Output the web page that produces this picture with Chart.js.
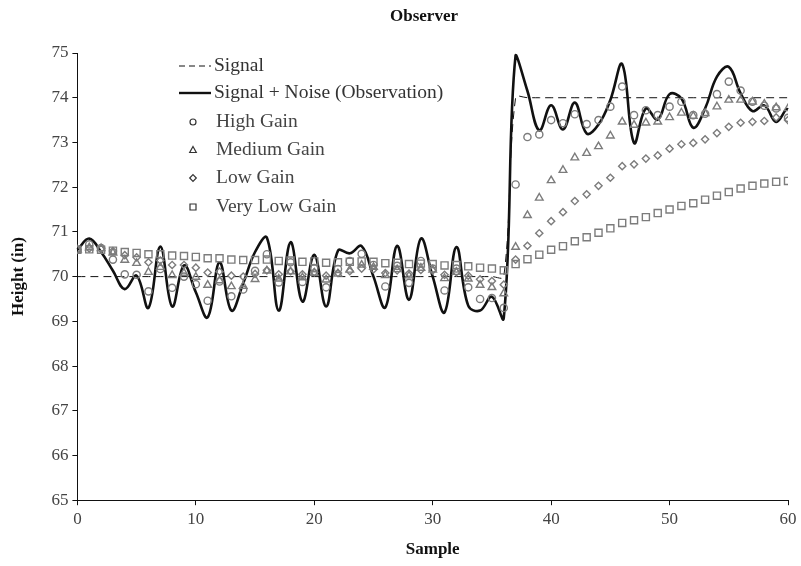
<!DOCTYPE html>
<html>
<head>
<meta charset="utf-8">
<script src="https://cdn.jsdelivr.net/npm/chart.js@4.4.1/dist/chart.umd.min.js"></script>
<style>
html, body { margin: 0; padding: 0; background: #fff; }
</style>
</head>
<body>
<canvas id="graficoObserver" width="801" height="566"></canvas>
<script>
// Dados
const samples = [0, 1, 2, 3, 4, 5, 6, 7, 8, 9, 10, 11, 12, 13, 14, 15, 16, 17, 18, 19,
  20, 21, 22, 23, 24, 25, 26, 27, 28, 29, 30, 31, 32, 33, 34, 35, 36, 37, 38, 39,
  40, 41, 42, 43, 44, 45, 46, 47, 48, 49, 50, 51, 52, 53, 54, 55, 56, 57, 58, 59, 60, 61];

const signal = [70, 70, 70, 70, 70, 70, 70, 70, 70, 70, 70, 70, 70, 70, 70, 70, 70, 70, 70, 70,
  70, 70, 70, 70, 70, 70, 70, 70, 70, 70, 70, 70, 70, 70, 70, 70, 70, 74, 74, 74,
  74, 74, 74, 74, 74, 74, 74, 74, 74, 74, 74, 74, 74, 74, 74, 74, 74, 74, 74, 74, 74, 74];

const observation = [70.6, 70.85, 70.55, 70.13, 69.72, 70.02, 69.3, 70.67, 69.33, 70.25,
  69.65, 69.09, 70.32, 69.24, 69.85, 70.55, 70.87, 69.24, 70.77, 69.44,
  70.49, 69.33, 70.58, 70.52, 70.68, 70.0, 69.31, 70.69, 69.48, 70.85,
  70.0, 69.2, 70.66, 69.35, 69.24, 69.55, 69.07, 74.95, 74.15, 73.27,
  73.83, 73.29, 73.89, 73.2, 73.4, 73.95, 74.75, 72.99, 73.76, 73.51,
  74.08, 73.98, 73.33, 73.76, 74.47, 74.69, 74.1, 73.7, 73.83, 73.46,
  73.74, 73.12];

const highGain = [70.6, 70.72, 70.64, 70.38, 70.05, 70.04, 69.67, 70.17, 69.75, 70.0,
  69.83, 69.46, 69.89, 69.56, 69.71, 70.13, 70.5, 69.87, 70.32, 69.88,
  70.19, 69.76, 70.17, 70.35, 70.51, 70.26, 69.78, 70.24, 69.86, 70.35,
  70.18, 69.69, 70.18, 69.76, 69.5, 69.52, 69.3, 72.06, 73.12, 73.18,
  73.5, 73.43, 73.63, 73.41, 73.5, 73.8, 74.25, 73.61, 73.72, 73.61,
  73.8, 73.91, 73.61, 73.64, 74.08, 74.36, 74.16, 73.91, 73.82, 73.76,
  73.55];

const mediumGain = [70.6, 70.65, 70.63, 70.53, 70.37, 70.3, 70.1, 70.21, 70.03, 70.08,
  69.99, 69.81, 69.91, 69.78, 69.79, 69.94, 70.13, 69.95, 70.11, 69.98,
  70.08, 69.93, 70.06, 70.15, 70.26, 70.21, 70.03, 70.16, 70.02, 70.19,
  70.15, 69.96, 70.1, 69.95, 69.81, 69.76, 69.62, 70.66, 71.37, 71.76,
  72.15, 72.38, 72.66, 72.76, 72.91, 73.15, 73.46, 73.39, 73.44, 73.46,
  73.56, 73.66, 73.59, 73.65, 73.8, 73.95, 73.95, 73.91, 73.86, 73.78,
  73.76];

const lowGain = [70.6, 70.63, 70.62, 70.57, 70.48, 70.43, 70.32, 70.36, 70.26, 70.26,
  70.2, 70.09, 70.11, 70.02, 70.0, 70.06, 70.14, 70.05, 70.12, 70.05,
  70.1, 70.02, 70.08, 70.12, 70.18, 70.16, 70.08, 70.14, 70.07, 70.15,
  70.14, 70.04, 70.1, 70.02, 69.94, 69.9, 69.82, 70.38, 70.69, 70.97,
  71.24, 71.44, 71.69, 71.84, 72.03, 72.21, 72.47, 72.51, 72.64, 72.71,
  72.86, 72.96, 72.99, 73.07, 73.21, 73.35, 73.44, 73.46, 73.48, 73.56,
  73.5];

const veryLowGain = [70.6, 70.61, 70.6, 70.58, 70.55, 70.53, 70.5, 70.5, 70.47, 70.46,
  70.44, 70.41, 70.41, 70.38, 70.37, 70.37, 70.38, 70.35, 70.36, 70.33,
  70.34, 70.31, 70.32, 70.33, 70.34, 70.33, 70.3, 70.31, 70.28, 70.29,
  70.28, 70.25, 70.26, 70.23, 70.2, 70.18, 70.14, 70.28, 70.39, 70.49,
  70.6, 70.68, 70.79, 70.88, 70.98, 71.08, 71.2, 71.26, 71.33, 71.42,
  71.5, 71.58, 71.64, 71.72, 71.81, 71.89, 71.97, 72.03, 72.08, 72.12,
  72.14];

const xTicks = [0, 10, 20, 30, 40, 50, 60];
const yTicks = [65, 66, 67, 68, 69, 70, 71, 72, 73, 74, 75];

// monta os pontos {x, y}
const pontos = (valores) => valores.map((v, i) => ({ x: samples[i], y: v }));

const fonte = 'Liberation Serif, Times New Roman, serif';
const cinza = '#7c7c7c';

const estiloMarcador = (forma, raio) => ({
  showLine: false,
  pointStyle: forma,
  pointRadius: raio,
  pointHoverRadius: raio,
  pointBorderWidth: 1.4,
  pointBorderColor: cinza,
  pointBackgroundColor: 'rgba(0,0,0,0)',
  borderColor: cinza,
  backgroundColor: 'rgba(0,0,0,0)'
});

const data = {
  datasets: [
    Object.assign({ label: 'High Gain', data: pontos(highGain) }, estiloMarcador('circle', 3.6)),
    Object.assign({ label: 'Medium Gain', data: pontos(mediumGain) }, estiloMarcador('triangle', 4.4)),
    Object.assign({ label: 'Low Gain', data: pontos(lowGain) }, estiloMarcador('rectRot', 3.6)),
    Object.assign({ label: 'Very Low Gain', data: pontos(veryLowGain) }, estiloMarcador('rect', 5)),
    {
      label: 'Signal',
      data: pontos(signal),
      borderColor: '#111',
      borderWidth: 1,
      borderDash: [8, 5],
      pointRadius: 0,
      tension: 0.35,
      clip: false
    },
    {
      label: 'Signal + Noise (Observation)',
      data: pontos(observation),
      borderColor: '#111',
      borderWidth: 2.6,
      pointRadius: 0,
      tension: 0.4,
      clip: false
    }
  ]
};

// titulo e legenda desenhados por cima
const legendaInterna = {
  id: 'legendaInterna',
  afterDraw(chart) {
    const ctx = chart.ctx;
    ctx.save();
    // titulo
    ctx.font = 'bold 17px ' + fonte;
    ctx.textAlign = 'center';
    ctx.textBaseline = 'middle';
    ctx.fillStyle = '#111';
    ctx.fillText('Observer', 424, 17);

    const x0 = 179, x1 = 211, xm = 193, xt = 214;
    const linhas = [66, 93, 122, 150, 178, 207];
    ctx.textAlign = 'left';
    ctx.font = '19.5px ' + fonte;
    ctx.fillStyle = '#333';
    // Signal
    ctx.strokeStyle = '#111';
    ctx.lineWidth = 1;
    ctx.setLineDash([6, 4]);
    ctx.beginPath(); ctx.moveTo(x0, linhas[0]); ctx.lineTo(x1, linhas[0]); ctx.stroke();
    ctx.setLineDash([]);
    ctx.fillText('Signal', xt, linhas[0]);
    // Signal + Noise
    ctx.lineWidth = 2.4;
    ctx.beginPath(); ctx.moveTo(x0, linhas[1]); ctx.lineTo(x1, linhas[1]); ctx.stroke();
    ctx.fillText('Signal + Noise (Observation)', xt, linhas[1]);
    // marcadores
    ctx.strokeStyle = '#333';
    ctx.lineWidth = 1.2;
    const nomes = ['High Gain', 'Medium Gain', 'Low Gain', 'Very Low Gain'];
    nomes.forEach((nome, k) => {
      const y = linhas[k + 2];
      ctx.beginPath();
      if (k === 0) {
        ctx.arc(xm, y, 3, 0, Math.PI * 2);
      } else if (k === 1) {
        ctx.moveTo(xm, y - 3.5); ctx.lineTo(xm + 3.3, y + 2.5); ctx.lineTo(xm - 3.3, y + 2.5); ctx.closePath();
      } else if (k === 2) {
        ctx.moveTo(xm, y - 3.3); ctx.lineTo(xm + 3.3, y); ctx.lineTo(xm, y + 3.3); ctx.lineTo(xm - 3.3, y); ctx.closePath();
      } else {
        ctx.rect(xm - 3, y - 3, 6, 6);
      }
      ctx.stroke();
      ctx.fillStyle = '#444';
      ctx.fillText(nome, xt + 2, y);
    });
    ctx.restore();
  }
};

const config = {
  type: 'line',
  data: data,
  options: {
    responsive: false,
    animation: false,
    layout: { padding: { left: 0, right: 13, top: 53, bottom: 6 } },
    plugins: {
      legend: { display: false },
      tooltip: { enabled: false },
      title: { display: false }
    },
    scales: {
      x: {
        type: 'linear',
        min: 0,
        max: 60,
        afterBuildTicks: (axis) => { axis.ticks = xTicks.map(v => ({ value: v })); },
        ticks: { color: '#444', font: { family: fonte, size: 17 }, padding: 4, maxRotation: 0 },
        grid: { display: true, drawOnChartArea: false, drawTicks: true, tickLength: 5, color: '#111' },
        border: { display: true, color: '#111', width: 1 },
        title: {
          display: true, text: 'Sample', color: '#111',
          font: { family: fonte, size: 17, weight: 'bold' },
          padding: { top: 6, bottom: 0 }
        }
      },
      y: {
        min: 65,
        max: 75,
        afterBuildTicks: (axis) => { axis.ticks = yTicks.map(v => ({ value: v })); },
        ticks: { color: '#444', font: { family: fonte, size: 17 }, padding: 4 },
        grid: { display: true, drawOnChartArea: false, drawTicks: true, tickLength: 5, color: '#111' },
        border: { display: true, color: '#111', width: 1 },
        title: {
          display: true, text: 'Height (in)', color: '#111',
          font: { family: fonte, size: 17, weight: 'bold' },
          padding: { top: 8, bottom: 19 }
        }
      }
    }
  },
  plugins: [legendaInterna]
};

const ctx = document.getElementById('graficoObserver').getContext('2d');
new Chart(ctx, config);
</script>
</body>
</html>
